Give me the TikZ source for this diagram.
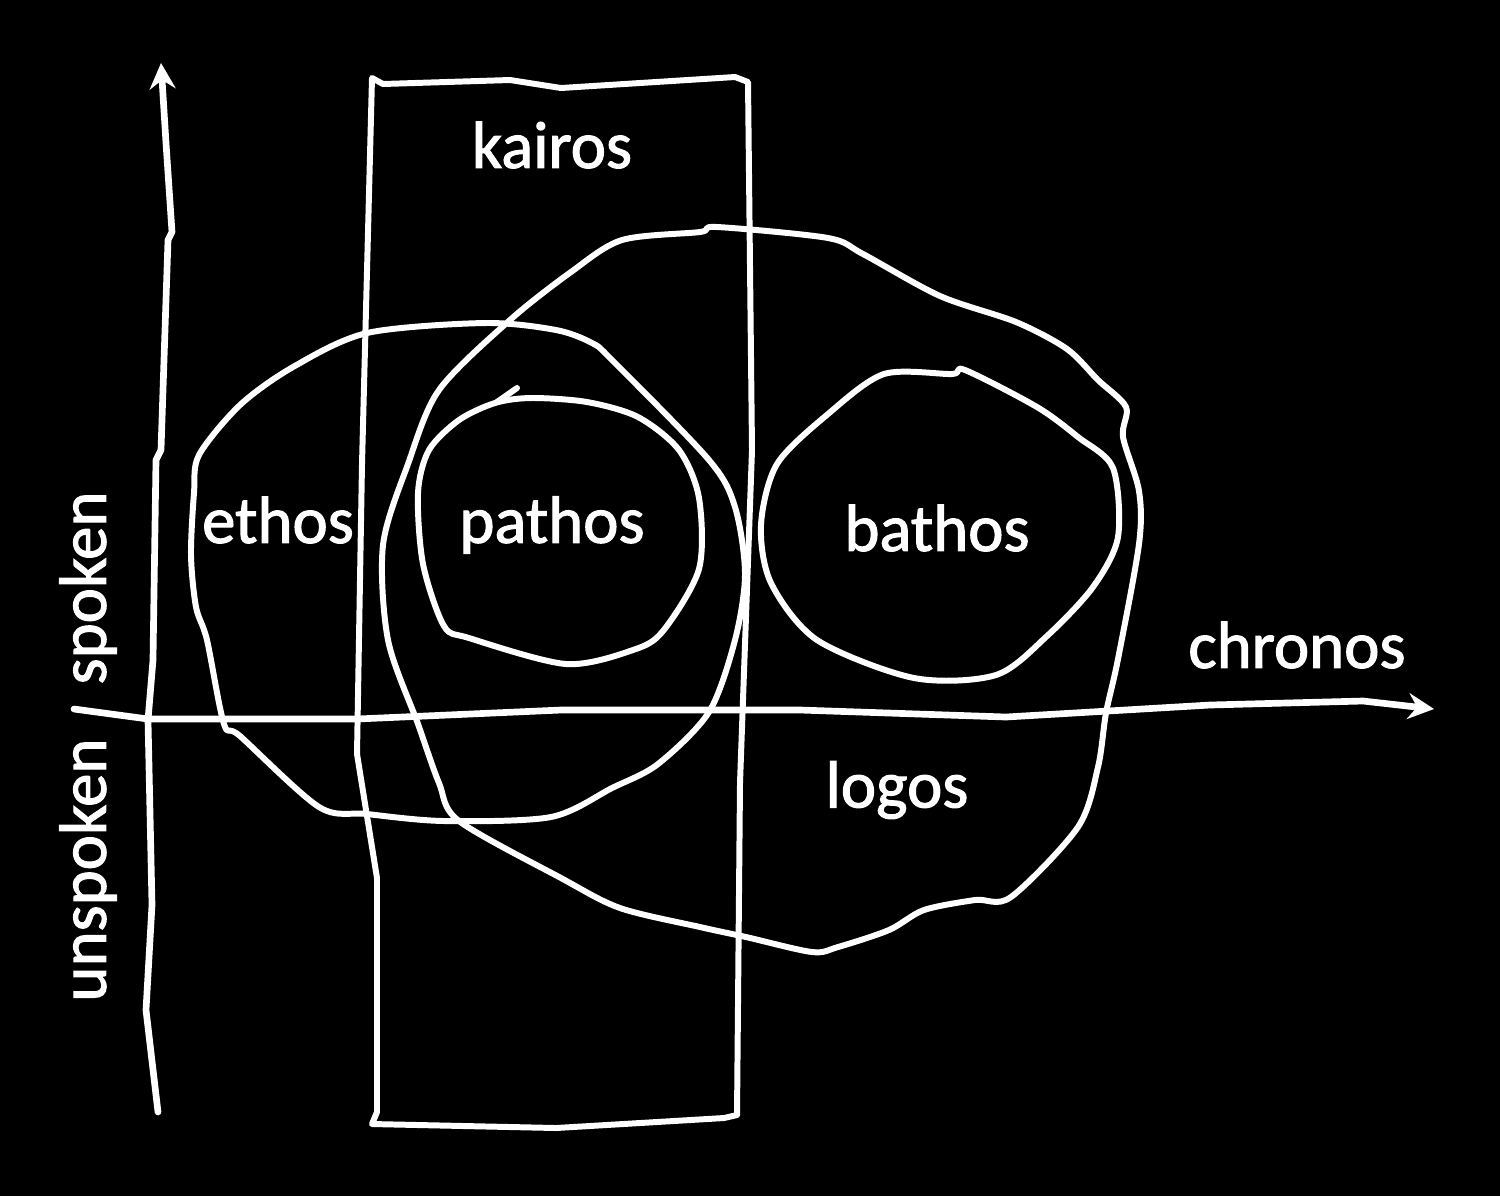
\documentclass[tikz,border=0pt]{standalone}
\usepackage{fontspec}
\setmainfont{Carlito}[FakeBold=1.6]
\usepackage{tikz}
\usetikzlibrary{arrows.meta,backgrounds}

\begin{document}
\begin{tikzpicture}[x=0.1mm, y=-0.1mm,
  chalk/.style={draw=white, line width=1.7pt, line join=round, line cap=round},
  axis/.style={chalk, line width=1.9pt, -{Stealth[length=2.6mm,width=2.6mm,inset=0.9mm]}},
  blob/.style={chalk, smooth cycle, tension=0.5},
  word/.style={text=white, inner sep=0pt, font=\fontsize{19}{19}\selectfont},
]
\fill[black] (0,0) rectangle (1500,1196);
\useasboundingbox (0,0) rectangle (1500,1196);

% axes
\coordinate (yfoot) at (158,1112);
\coordinate (ytip)  at (161,63);
\coordinate (xfoot) at (74,709);
\coordinate (xtip)  at (1434,709);
\draw[axis] (yfoot) -- (146,1010) -- (152,905) -- (148,720) -- (153,660)
  -- (156,460) -- (161,450) -- (168,240) -- (172,232) -- (166,143) -- (ytip);
\draw[axis] (xfoot) -- (148,719) -- (357,719) -- (561,710) -- (800,710)
  -- (1006,717) -- (1210,705) -- (1363,701) -- (xtip);

% kairos band
\draw[chalk] (372,78) -- (383,84) -- (510,80) -- (561,88) -- (735,77) -- (748,82)
  -- (752,450) -- (740,783) -- (737,1115) -- (724,1118) -- (556,1128)
  -- (372,1124) -- (377,1112) -- (377,878) -- (357,754) -- (362,464) -- cycle;

% logos
\draw[blob] plot coordinates {(717,227) (828,238) (863,254) (940,296) (1016,322)
  (1067,349) (1098,380) (1126,407) (1123,437) (1139,491) (1139,544) (1118,659)
  (1106,713) (1098,767) (1078,827) (1011,897) (975,900) (924,910) (889,930)
  (838,947) (812,952) (746,937) (700,927) (620,908) (561,878) (459,821) (439,783)
  (418,724) (388,640) (383,545) (408,464) (439,390) (510,320) (571,272) (622,240)
  (700,232)};

% ethos
\draw[blob] plot coordinates {(199,455) (240,405) (293,367) (367,333) (485,323)
  (556,330) (592,343) (612,360) (709,460) (735,507) (745,574) (735,640) (709,712)
  (658,764) (612,788) (551,817) (444,821) (367,814) (319,807) (240,736) (224,724)
  (207,640) (196,607) (191,555) (194,493)};

% pathos
\draw[blob] plot coordinates {(531,398) (587,402) (638,417) (679,450) (699,498)
  (699,569) (663,631) (633,650) (566,664) (469,638) (444,626) (423,564) (418,493)
  (429,450) (459,420) (495,403)};
\draw[chalk] (497,402) -- (517,388);

% bathos
\draw[blob] plot coordinates {(952,374) (884,374) (828,414) (777,464) (761,525)
  (771,583) (817,640) (914,678) (996,675) (1047,636) (1093,587) (1118,537)
  (1113,468) (1078,437) (1037,407) (965,370)};

\node[word] (kairos)  at (552,145)  {kairos};
\node[word] (ethos)   at (278,520)  {ethos};
\node[word] (pathos)  at (552,525)  {pathos};
\node[word] (bathos)  at (937,528)  {bathos};
\node[word] (logos)   at (897,790)  {logos};
\node[word] (chronos) at (1297,645) {chronos};
\node[word, rotate=90] (spoken)   at (88,588) {spoken};
\node[word, rotate=90] (unspoken) at (88,870) {unspoken};
\end{tikzpicture}
\end{document}
